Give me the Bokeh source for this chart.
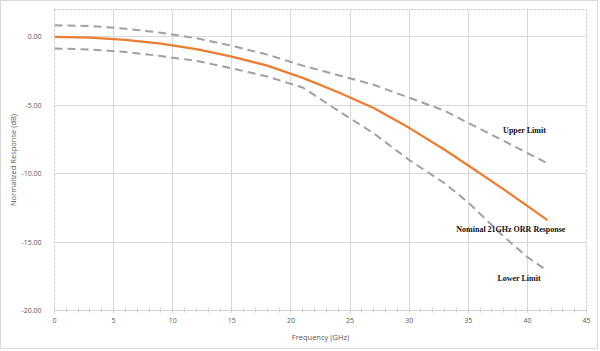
from bokeh.plotting import figure
from bokeh.models import FixedTicker, NumeralTickFormatter, Range1d
from bokeh.core.properties import value
from bokeh.embed import file_html
from bokeh.resources import INLINE

# ---- data ----
nominal_freq = [0, 3, 6, 9, 12, 15, 18, 21, 24, 27, 30, 33, 35, 38, 41.7]
nominal_resp = [0, -0.05, -0.22, -0.5, -0.9, -1.45, -2.1, -3.0, -4.05, -5.2, -6.65, -8.25, -9.4, -11.15, -13.4]

upper_freq = [0, 3, 6, 9, 12, 15, 18, 21, 24, 27, 30, 33, 35, 38, 41.6]
upper_resp = [0.85, 0.8, 0.6, 0.3, -0.1, -0.65, -1.3, -2.1, -2.8, -3.5, -4.45, -5.4, -6.3, -7.6, -9.2]

lower_freq = [0, 3, 6, 9, 12, 15, 18, 21, 24, 27, 30, 33, 35, 38, 40, 41.7]
lower_resp = [-0.85, -0.92, -1.1, -1.4, -1.75, -2.3, -2.9, -3.7, -5.4, -7.05, -9.0, -10.7, -12.1, -14.6, -16.1, -17.1]

series_names = ["Upper Limit", "Nominal 21GHz ORR Response", "Lower Limit"]
x_ticks = [0, 5, 10, 15, 20, 25, 30, 35, 40, 45]
y_ticks = [-20, -15, -10, -5, 0]

TICK_FONT = "Open Sans"
TICK_COLOR = "#595959"

p = figure(width=598, height=349, output_backend="svg", toolbar_location=None,
           x_range=Range1d(0, 45), y_range=Range1d(-20, 2.0),
           min_border_left=53, min_border_right=13, min_border_top=8, min_border_bottom=40)
p.styles = {"border": "1px solid #D9D9D9"}
p.background_fill_color = "white"
p.border_fill_color = "white"
p.outline_line_color = "#BFBFBF"
p.outline_line_dash = "2 2"
p.outline_line_width = 1

# axes
xa = p.xaxis[0]
xa.ticker = FixedTicker(ticks=x_ticks, minor_ticks=list(range(0, 46)))
xa.axis_label = "Frequency (GHz)"
xa.axis_line_color = "#D0D0D0"
xa.axis_line_width = 1
xa.major_tick_line_color = "#D0D0D0"
xa.minor_tick_line_color = "#D0D0D0"
xa.major_tick_in = 3
xa.major_tick_out = 2
xa.minor_tick_in = 3
xa.minor_tick_out = 2
xa.major_label_standoff = 5
xa.axis_label_standoff = 6

ya = p.yaxis[0]
ya.ticker = FixedTicker(ticks=y_ticks)
ya.formatter = NumeralTickFormatter(format="0.00")
ya.axis_label = "Normalized Response (dB)"
ya.axis_line_color = None
ya.major_tick_line_color = None
ya.minor_tick_line_color = None
ya.major_label_standoff = 7
ya.axis_label_standoff = 0

for ax in (xa, ya):
    ax.major_label_text_font = TICK_FONT
    ax.major_label_text_font_size = "7px"
    ax.major_label_text_color = TICK_COLOR
    ax.axis_label_text_font = TICK_FONT
    ax.axis_label_text_font_size = "7.5px"
    ax.axis_label_text_font_style = "normal"
    ax.axis_label_text_color = TICK_COLOR

p.xgrid.ticker = FixedTicker(ticks=x_ticks[1:-1])
p.ygrid.ticker = FixedTicker(ticks=y_ticks[1:])
p.xgrid.grid_line_color = "#D9D9D9"
p.ygrid.grid_line_color = "#D9D9D9"

# series
p.line(upper_freq, upper_resp, line_color="#A0A0A0", line_width=2, line_dash="8 5")
p.line(lower_freq, lower_resp, line_color="#A0A0A0", line_width=2, line_dash="8 5")
p.line(nominal_freq, nominal_resp, line_color="#ED7D31", line_width=2.25)

# annotations
label_x = [39.76, 38.6, 39.3]
label_y = [-6.83, -14.08, -17.66]
p.text(x=label_x, y=label_y, text=series_names,
       text_font=value("Liberation Serif"), text_font_style="bold",
       text_font_size="8px", text_color="#111111",
       text_align="center", text_baseline="middle")

open("out.html", "w").write(file_html(p, INLINE))
